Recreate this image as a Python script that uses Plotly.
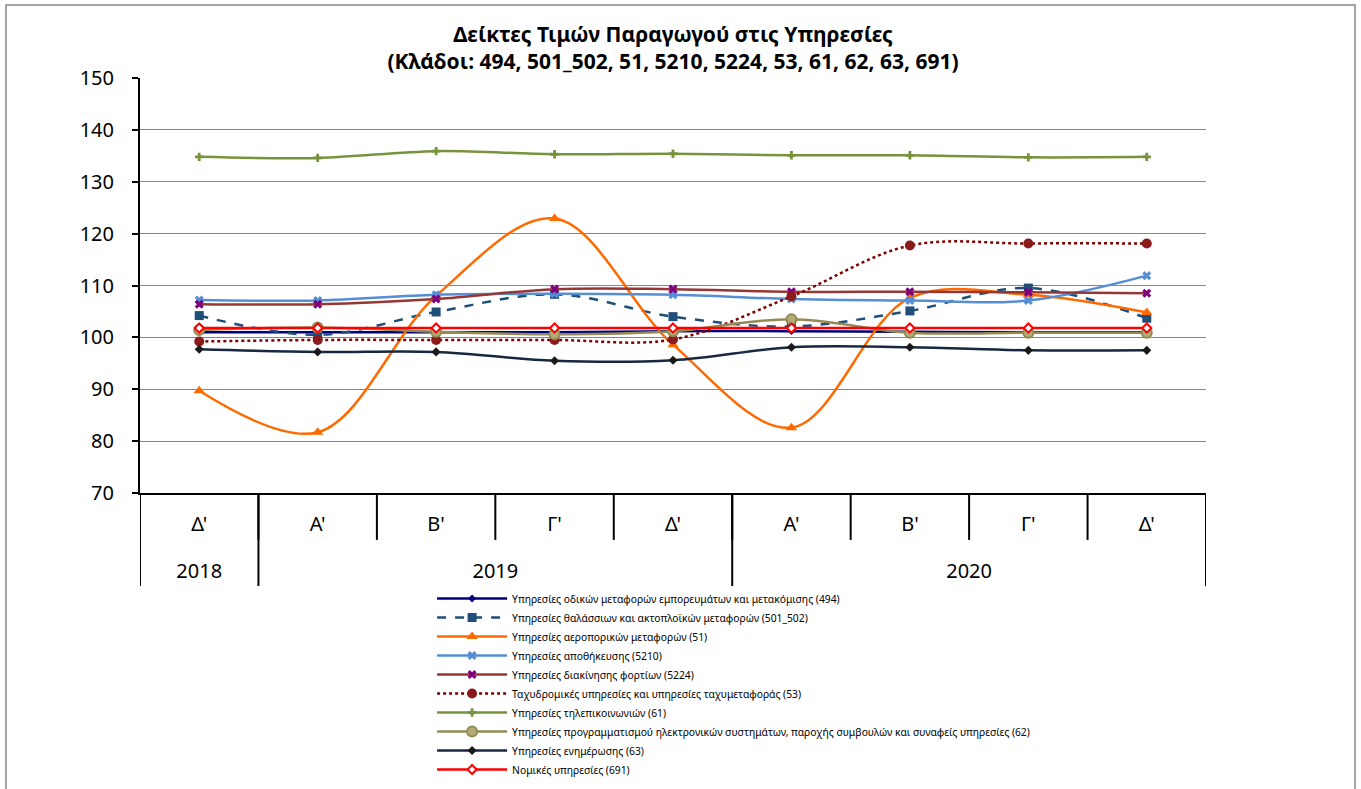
import plotly.graph_objects as go

# ---------------- data ----------------
years = ["2018", "2019", "2019", "2019", "2019", "2020", "2020", "2020", "2020"]
quarters = ["Δ'", "Α'", "Β'", "Γ'", "Δ'", "Α'", "Β'", "Γ'", "Δ'"]

s494 = [101.0, 101.0, 101.0, 101.0, 101.2, 101.2, 101.1, 101.0, 101.0]
s501_502 = [104.2, 100.5, 104.9, 108.3, 104.0, 102.1, 105.1, 109.5, 103.7]
s51 = [89.7, 81.7, 108.0, 122.9, 98.6, 82.6, 107.6, 108.2, 104.8]
s5210 = [107.2, 107.1, 108.2, 108.4, 108.2, 107.4, 107.1, 107.1, 111.9]
s5224 = [106.4, 106.4, 107.4, 109.3, 109.3, 108.8, 108.8, 108.7, 108.5]
s53 = [99.2, 99.5, 99.5, 99.5, 99.6, 107.9, 117.7, 118.1, 118.1]
s61 = [134.8, 134.6, 135.9, 135.3, 135.4, 135.1, 135.1, 134.7, 134.8]
s62 = [101.4, 101.9, 101.1, 100.6, 101.2, 103.5, 100.9, 100.9, 100.9]
s63 = [97.7, 97.2, 97.2, 95.5, 95.6, 98.1, 98.1, 97.5, 97.5]
s691 = [101.8, 101.8, 101.8, 101.8, 101.8, 101.8, 101.8, 101.8, 101.8]

names = [
    "Υπηρεσίες οδικών μεταφορών εμπορευμάτων και μετακόμισης (494)",
    "Υπηρεσίες θαλάσσιων και ακτοπλοϊκών μεταφορών (501_502)",
    "Υπηρεσίες αεροπορικών μεταφορών (51)",
    "Υπηρεσίες αποθήκευσης (5210)",
    "Υπηρεσίες διακίνησης φορτίων (5224)",
    "Ταχυδρομικές υπηρεσίες και υπηρεσίες ταχυμεταφοράς (53)",
    "Υπηρεσίες τηλεπικοινωνιών (61)",
    "Υπηρεσίες προγραμματισμού ηλεκτρονικών συστημάτων, παροχής συμβουλών και συναφείς υπηρεσίες (62)",
    "Υπηρεσίες ενημέρωσης (63)",
    "Νομικές υπηρεσίες (691)",
]
title_lines = ["Δείκτες Τιμών Παραγωγού στις Υπηρεσίες",
               "(Κλάδοι: 494, 501_502, 51, 5210, 5224, 53, 61, 62, 63, 691)"]

FONT = "Noto Sans"

# unique category keys (year + quarter), shown as the quarter only
keys = [y + " " + q for y, q in zip(years, quarters)]
n = len(keys)

# year groups -> centre positions and boundaries (derived from the years list)
year_labels, year_centers, year_bounds = [], [], [-0.5]
start = 0
for i in range(1, n + 1):
    if i == n or years[i] != years[start]:
        year_labels.append(years[start])
        year_centers.append((start + i - 1) / 2)
        year_bounds.append(i - 0.5)
        start = i

# ---------------- styles ----------------
styles = [
    dict(line=dict(color="#000080", width=2.5), marker=dict(symbol="diamond", size=6, color="#000080")),
    dict(line=dict(color="#1F4E79", width=2.5, dash="dash"), marker=dict(symbol="square", size=9, color="#1F4E79")),
    dict(line=dict(color="#FF6A00", width=2.5), marker=dict(symbol="triangle-up", size=10, color="#FF6A00")),
    dict(line=dict(color="#558ED5", width=2.5), marker=dict(symbol="x", size=8, color="#558ED5")),
    dict(line=dict(color="#953735", width=2.5), marker=dict(symbol="x", size=8, color="#800080")),
    dict(line=dict(color="#7F0000", width=2.5, dash="dot"), marker=dict(symbol="circle", size=10, color="#8B1A1A")),
    dict(line=dict(color="#77933C", width=2.5), marker=dict(symbol="cross", size=7, color="#77933C")),
    dict(line=dict(color="#948A54", width=2.5), marker=dict(symbol="circle", size=10, color="#B3AA7A",
                                                          line=dict(color="#948A54", width=2))),
    dict(line=dict(color="#17283F", width=2.5), marker=dict(symbol="diamond", size=7, color="#1A1A1A")),
    dict(line=dict(color="#FF0000", width=2.5), marker=dict(symbol="diamond", size=7, color="white",
                                                          line=dict(color="#FF0000", width=2))),
]

series = [s494, s501_502, s51, s5210, s5224, s53, s61, s62, s63, s691]

fig = go.Figure()
for name, vals, st in zip(names, series, styles):
    line = dict(st["line"])
    line["shape"] = "spline"
    fig.add_trace(go.Scatter(
        x=keys, y=vals, name=name, mode="lines+markers",
        line=line, marker=st["marker"],
    ))

# helper trace that carries the year axis (no visible marks)
fig.add_trace(go.Scatter(x=year_centers, y=[None] * len(year_centers), xaxis="x2",
                         mode="markers", showlegend=False, hoverinfo="skip"))

shapes = []
# quarter separators in the upper label row
for i in range(n - 1):
    shapes.append(dict(type="line", xref="x", yref="paper", x0=i + 0.5, x1=i + 0.5,
                       y0=0, y1=-0.113, line=dict(color="black", width=2)))
# year dividers spanning both label rows
for b in year_bounds:
    shapes.append(dict(type="line", xref="x", yref="paper", x0=b, x1=b,
                       y0=0, y1=-0.224, line=dict(color="black", width=2)))
# outer chart border
shapes.append(dict(type="rect", xref="paper", yref="paper", x0=-0.1257, x1=1.1398,
                   y0=-0.73, y1=1.176, line=dict(color="#888888", width=1.5)))

fig.update_layout(
    width=1361, height=789,
    margin=dict(l=140, r=155, t=78, b=296, autoexpand=False),
    paper_bgcolor="white", plot_bgcolor="white",
    font=dict(family=FONT, color="black"),
    title=dict(text="<b>" + title_lines[0] + "<br>" + title_lines[1] + "</b>",
               x=0.4945, xanchor="center", y=1 - 42 / 789, yanchor="middle",
               font=dict(size=21, family=FONT)),
    showlegend=True,
    legend=dict(orientation="v", x=0.274, xanchor="left",
                yref="container", y=1 - 584 / 789, yanchor="top",
                font=dict(size=10.3, family=FONT), itemwidth=70,
                bgcolor="rgba(0,0,0,0)", tracegroupgap=0),
    shapes=shapes,
    xaxis=dict(type="category", categoryorder="array", categoryarray=keys,
               tickvals=keys, ticktext=quarters, range=[-0.5, n - 0.5],
               showline=True, linecolor="black", linewidth=2, ticks="",
               ticklabelstandoff=12, tickfont=dict(size=20, family=FONT),
               showgrid=False, zeroline=False, automargin=False),
    xaxis2=dict(overlaying="x", anchor="y", side="bottom", type="linear",
                range=[-0.5, n - 0.5], tickvals=year_centers, ticktext=year_labels,
                showline=False, showgrid=False, zeroline=False, ticks="",
                ticklabelstandoff=64, tickfont=dict(size=20, family=FONT), automargin=False),
    yaxis=dict(range=[70, 150], dtick=10, showgrid=True, gridcolor="#868686", gridwidth=1,
               showline=True, linecolor="black", linewidth=2, ticks="outside", ticklen=6,
               tickcolor="black", tickwidth=2, tickfont=dict(size=20, family=FONT),
               ticklabelstandoff=14, zeroline=False, automargin=False),
)

fig.write_html("out.html", config={"displayModeBar": False},
               post_script="document.body.style.margin='0';")
